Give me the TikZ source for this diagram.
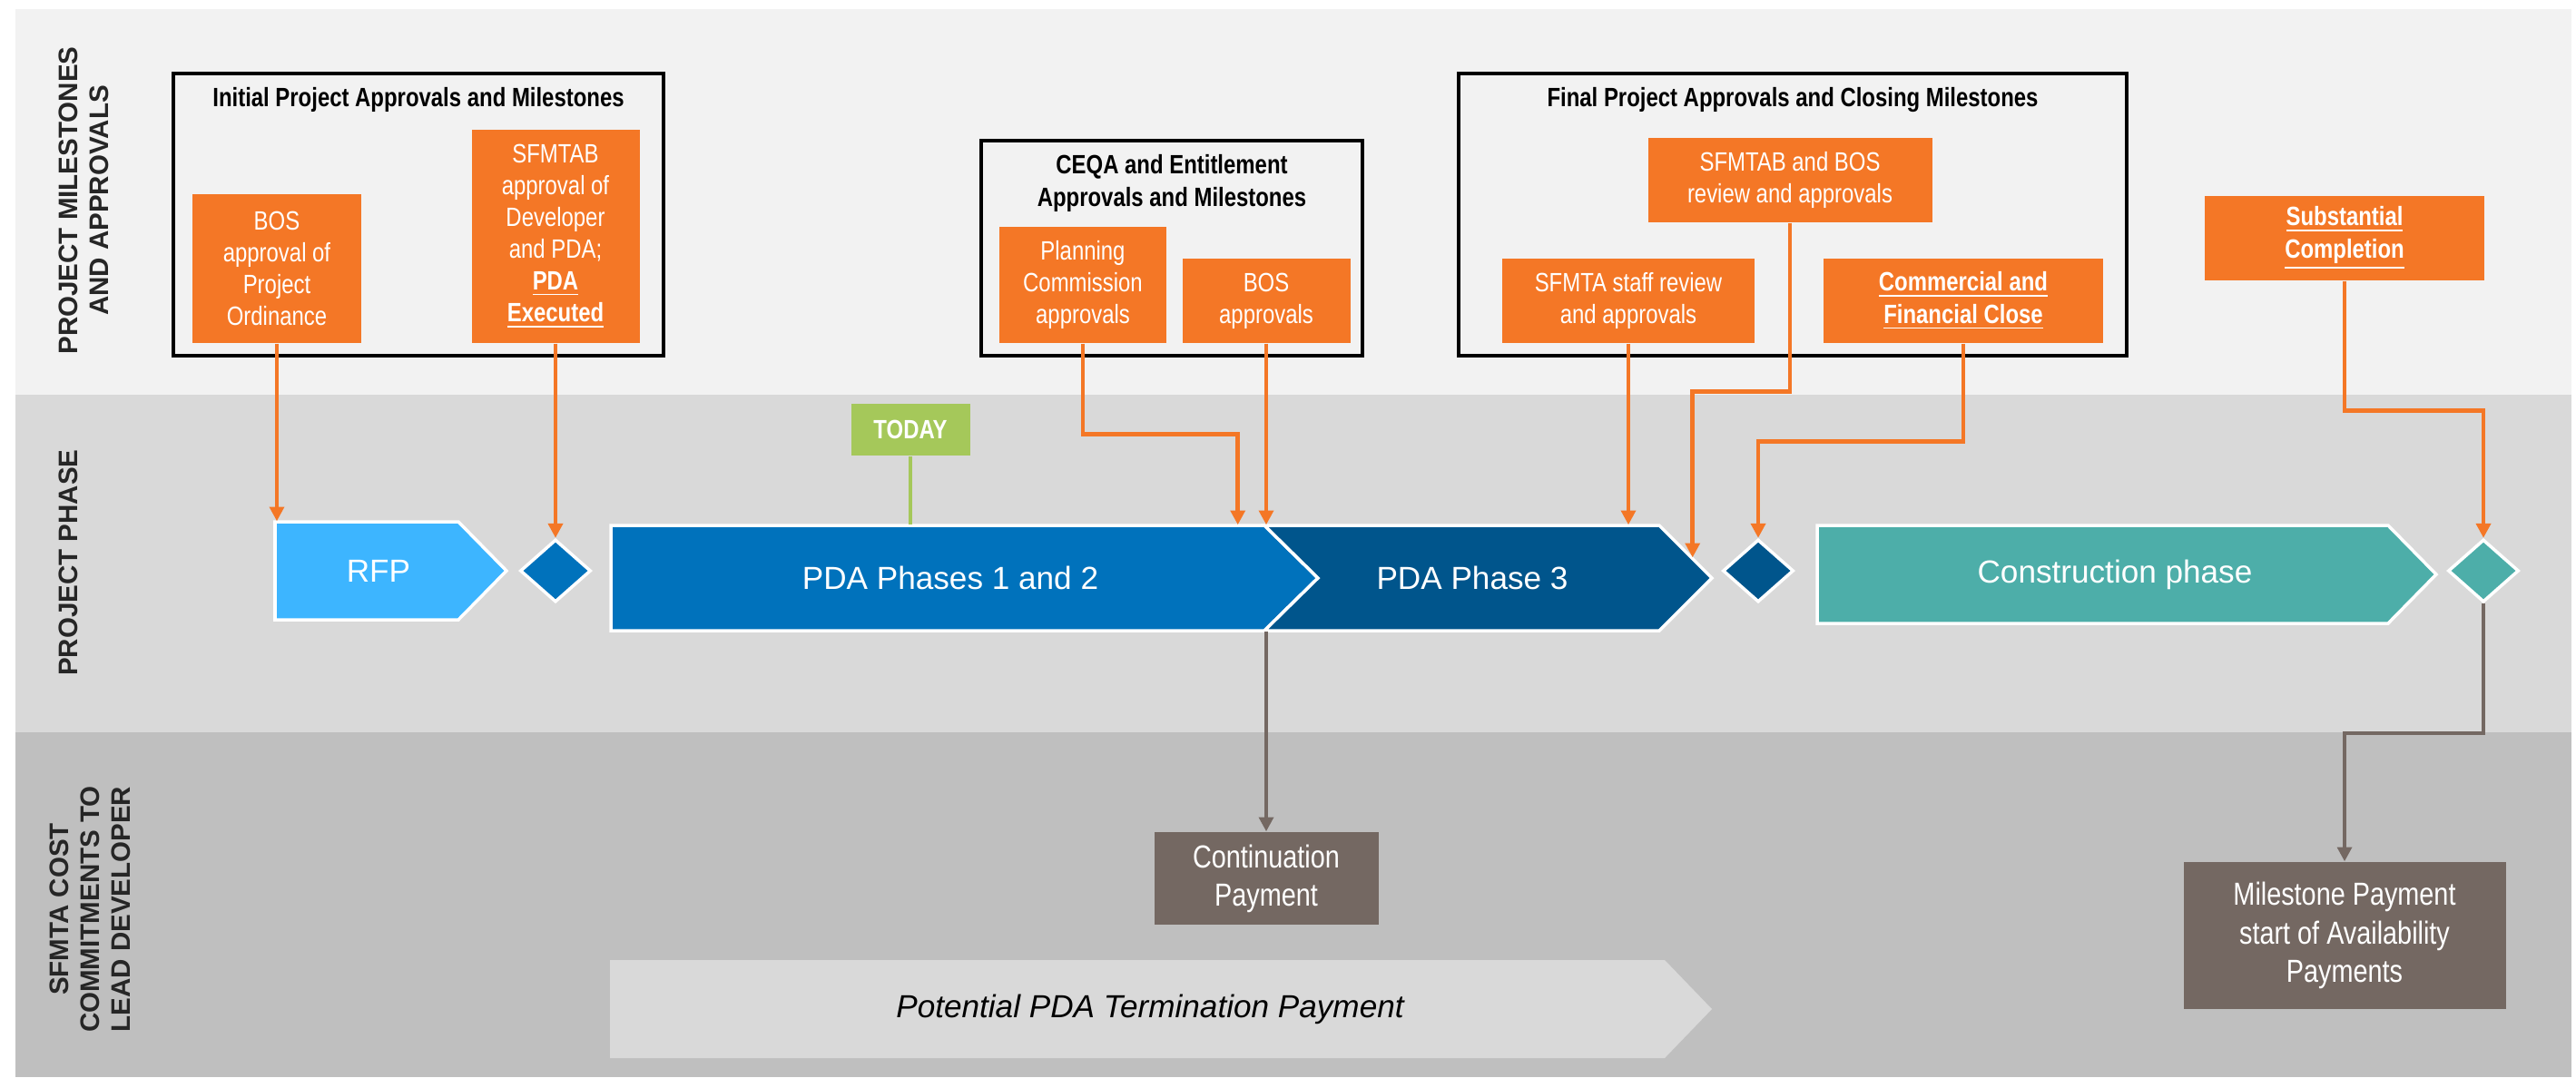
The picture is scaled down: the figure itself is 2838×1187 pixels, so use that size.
\documentclass[tikz,border=0pt]{standalone}
\usepackage{fontspec}
\setmainfont{Liberation Sans}
\newfontfamily\narrowfont{Liberation Sans}[FakeStretch=0.82]
\usepackage{tikz}
\usetikzlibrary{arrows.meta,shapes.geometric,calc}

\definecolor{laneA}{RGB}{242,242,242}
\definecolor{laneB}{RGB}{217,217,217}
\definecolor{laneC}{RGB}{191,191,191}
\definecolor{msorange}{RGB}{244,119,38}
\definecolor{rfpblue}{RGB}{61,181,255}
\definecolor{pdablue}{RGB}{0,114,188}
\definecolor{pdadark}{RGB}{0,85,140}
\definecolor{buildteal}{RGB}{77,174,169}
\definecolor{paygray}{RGB}{116,104,98}
\definecolor{todaygreen}{RGB}{165,200,90}
\definecolor{lanetext}{RGB}{38,38,38}

\begin{document}
\begin{tikzpicture}[
        x=0.1mm, y=-0.1mm,                 % 1 单位 = 1 像素
        >={Triangle[width=4.5pt,length=4.5pt]},
        lane/.style={rotate=90, align=center, text=lanetext, font=\bfseries\fontsize{8.4}{9.7}\selectfont},
        group/.style={draw=black, line width=0.9pt, inner sep=0pt},
        grouptitle/.style={align=center, font=\narrowfont\bfseries\fontsize{8.3}{10}\selectfont},
        milestone/.style={fill=msorange, text=white, align=center, inner sep=0pt, font=\narrowfont\fontsize{8.3}{10}\selectfont},
        chev/.style={draw=white, line width=1pt},
        phaselabel/.style={text=white, inner sep=0pt, font=\fontsize{10}{12}\selectfont},
        gate/.style={diamond, draw=white, line width=1pt, inner sep=0pt, minimum width=7.8mm, minimum height=6.9mm},
        payment/.style={fill=paygray, text=white, align=center, inner sep=0pt, font=\narrowfont\fontsize{10}{12}\selectfont},
        arrow/.style={->, draw=msorange, line width=1.3pt},
        payarrow/.style={->, draw=paygray, line width=1.2pt}
    ]
    % 泳道
    \useasboundingbox[fill=white] (0,0) rectangle (2838,1187);
    \fill[laneA] (17,10) rectangle (2833,435);
    \fill[laneB] (17,435) rectangle (2833,807);
    \fill[laneC] (17,807) rectangle (2833,1187);
    \node[lane] (lanemilestones) at (92,221) {PROJECT MILESTONES\\AND APPROVALS};
    \node[lane] (lanephase) at (75,620) {PROJECT PHASE};
    \node[lane] (lanecost) at (99,1002) {SFMTA COST\\COMMITMENTS TO\\LEAD DEVELOPER};

    % 审批分组
    \node[group, minimum width=54mm, minimum height=31.1mm] (initial) at (461,236.5) {};
    \node[grouptitle] (initialtitle) at (461,110) {Initial Project Approvals and Milestones};
    \node[group, minimum width=42mm, minimum height=23.7mm] (ceqa) at (1291,273.5) {};
    \node[grouptitle] (ceqatitle) at (1291,202) {CEQA and Entitlement\\Approvals and Milestones};
    \node[group, minimum width=73.6mm, minimum height=31.1mm] (final) at (1975,236.5) {};
    \node[grouptitle] (finaltitle) at (1975,110) {Final Project Approvals and Closing Milestones};

    % 里程碑
    \node[milestone, minimum width=18.6mm, minimum height=16.4mm] (bosord) at (305,296) {BOS\\approval of\\Project\\Ordinance};
    \node[milestone, minimum width=18.5mm, minimum height=23.5mm] (sfmtab) at (612,260.5) {SFMTAB\\approval of\\Developer\\and PDA;\\\textbf{\underline{PDA}}\\\textbf{\underline{Executed}}};
    \node[milestone, minimum width=18.4mm, minimum height=12.8mm] (planning) at (1193,314) {Planning\\Commission\\approvals};
    \node[milestone, minimum width=18.5mm, minimum height=9.3mm] (bosapp) at (1395,331.5) {BOS\\approvals};
    \node[milestone, minimum width=27.8mm, minimum height=9.3mm] (staff) at (1794,331.5) {SFMTA staff review\\and approvals};
    \node[milestone, minimum width=31.3mm, minimum height=9.3mm] (sfmtabbos) at (1972,198.5) {SFMTAB and BOS\\review and approvals};
    \node[milestone, minimum width=30.8mm, minimum height=9.3mm] (commercial) at (2163,331.5) {\textbf{\underline{Commercial and}}\\\textbf{\underline{Financial Close}}};
    \node[milestone, minimum width=30.8mm, minimum height=9.3mm] (substantial) at (2583,262.5) {\textbf{\underline{Substantial}}\\\textbf{\underline{Completion}}};
    \node[fill=todaygreen, text=white, inner sep=0pt, minimum width=13.1mm, minimum height=5.7mm,
          font=\narrowfont\bfseries\fontsize{8.3}{10}\selectfont] (today) at (1003,473.5) {TODAY};

    % 阶段
    \draw[chev, fill=rfpblue] (303,575) -- (505,575) -- (558,629) -- (505,683) -- (303,683) -- cycle;
    \node[phaselabel, minimum height=10.8mm] (rfp) at (417,629) {RFP};
    \node[gate, fill=pdablue] (gate1) at (612,629) {};
    \draw[chev, fill=pdablue] (673,579) -- (1393,579) -- (1452,637) -- (1393,695) -- (673,695) -- cycle;
    \node[phaselabel, minimum width=69.2mm, minimum height=11.6mm] (pda12) at (1047,637) {PDA Phases 1 and 2};
    \draw[chev, fill=pdadark] (1393,579) -- (1828,579) -- (1886,637) -- (1828,695) -- (1393,695) -- (1452,637) -- cycle;
    \node[phaselabel, minimum width=41.2mm, minimum height=11.6mm] (pda3) at (1622,637) {PDA Phase 3};
    \node[gate, fill=pdadark] (gate2) at (1937,629) {};
    \draw[chev, fill=buildteal] (2002,579) -- (2631,579) -- (2684,633) -- (2631,687) -- (2002,687) -- cycle;
    \node[phaselabel, minimum height=10.8mm] (construction) at (2330,633) {Construction phase};
    \node[gate, fill=buildteal] (gate3) at (2736,629) {};

    % 付款
    \node[payment, minimum width=24.7mm, minimum height=10.2mm] (contpay) at (1395,968) {Continuation\\Payment};
    \node[payment, minimum width=35.5mm, minimum height=16.2mm] (milepay) at (2583,1031) {Milestone Payment\\start of Availability\\Payments};
    \fill[laneB] (672,1058) -- (1834,1058) -- (1886,1112) -- (1834,1166) -- (672,1166) -- cycle;
    \node[phaselabel, text=black, font=\itshape\fontsize{10}{12}\selectfont, minimum height=10.8mm] (termination) at (1267,1112) {Potential PDA Termination Payment};

    % 边
    \draw[arrow] (bosord.south) -- (bosord.south |- rfp.north);
    \draw[arrow] (sfmtab.south) -- (gate1.north);
    \draw[arrow] (planning.south) -- ++(0,100) -| ($(pda12.north east)+(-30,0)$);
    \draw[arrow] (bosapp.south) -- (bosapp.south |- pda12.north);
    \draw[arrow] (staff.south) -- (staff.south |- pda3.north);
    \draw[arrow] (sfmtabbos.south) -- ++(0,186) -| ($(pda3.north east)+(36,36)$);
    \draw[arrow] (commercial.south) -- ++(0,108) -| (gate2.north);
    \draw[arrow] (substantial.south) -- ++(0,143) -| (gate3.north);
    \draw[todaygreen, line width=1.2pt] (today.south) -- (today.south |- pda12.north);
    \draw[payarrow] (contpay.north |- pda12.south) -- (contpay.north);
    \draw[payarrow] (gate3.south) -- ++(0,143) -| (milepay.north);
\end{tikzpicture}
\end{document}
